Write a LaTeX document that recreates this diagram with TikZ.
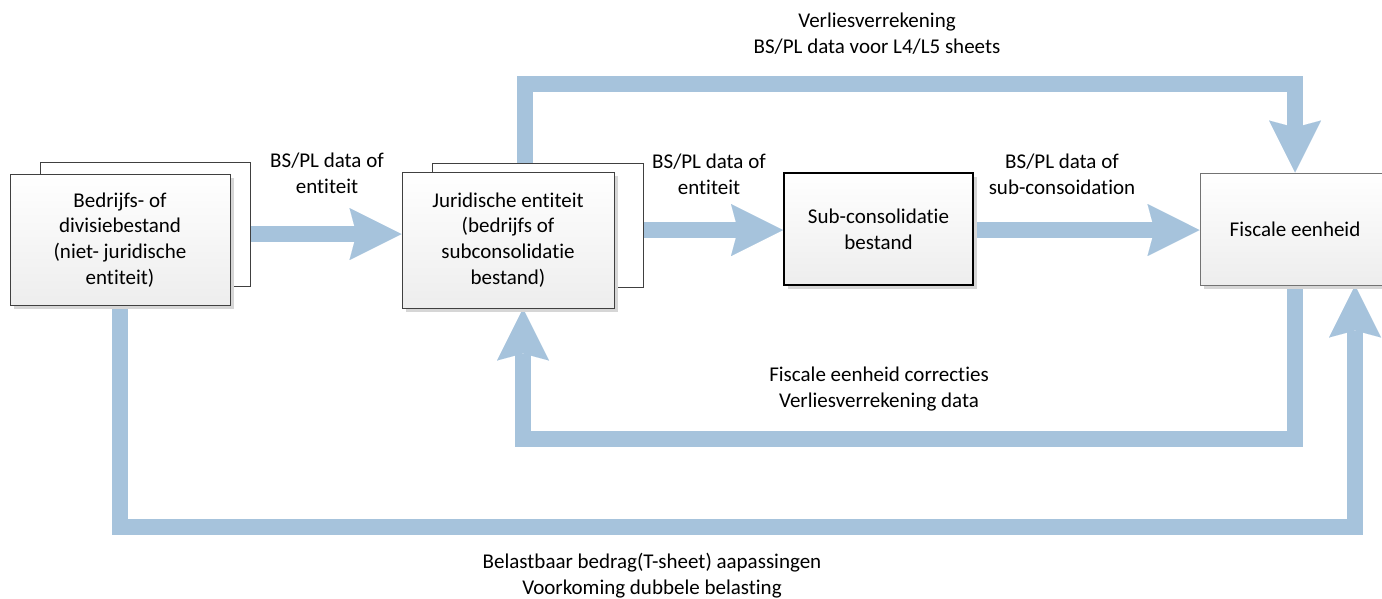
\documentclass[tikz,border=0pt]{standalone}
\usepackage{fontspec}
\setmainfont{Carlito}[Ligatures={NoCommon,NoRequired,NoContextual}]
\usetikzlibrary{arrows.meta,shadows,backgrounds}
\definecolor{flowblue}{RGB}{166,195,220}
\definecolor{boxline}{RGB}{64,64,64}
\begin{document}
\begin{tikzpicture}[x=1pt,y=-1pt,
  font=\fontsize{21}{25.8}\selectfont,
  flow/.style={draw=flowblue, line width=16pt,
    -{Stealth[length=52pt,width=52pt,inset=7pt,line width=0.01pt]}},
  backbox/.style={draw=boxline, line width=1pt, fill=white, inner sep=0pt},
  frontbox/.style={draw=boxline, line width=1pt, top color=white, bottom color=black!7,
    drop shadow={shadow xshift=3.5pt, shadow yshift=-3.5pt, fill=black!16, opacity=1},
    align=center, inner sep=0pt},
  subbox/.style={frontbox, draw=black, line width=2pt},
  fiscbox/.style={frontbox, draw=black!55},
  lbl/.style={align=center, inner sep=0pt}
]
\path[use as bounding box, clip] (0,0) rectangle (1382,598);

% back boxes
\node[backbox, minimum width=210pt, minimum height=124pt] (Aback) at (145,224) {};
\node[backbox, minimum width=211pt, minimum height=124pt] (Bback) at (537.5,225) {};

% front boxes
\node[frontbox, minimum width=220pt, minimum height=131pt] (A) at (120,240)
  {Bedrijfs- of\\divisiebestand\\(niet- juridische\\entiteit)};
\node[frontbox, minimum width=212pt, minimum height=136pt] (B) at (508,240)
  {Juridische entiteit\\(bedrijfs of\\subconsolidatie\\bestand)};
\node[subbox, minimum width=189pt, minimum height=112pt] (C) at (878.5,229)
  {Sub-consolidatie\\bestand};
\node[fiscbox, minimum width=190pt, minimum height=112pt] (D) at (1295,229)
  {Fiscale eenheid};

% connectors
\begin{scope}[on background layer]
\draw[flow] (Aback.east |- 0,234) -- (B.west |- 0,234);
\draw[flow] (Bback.east |- 0,230) -- (C.west |- 0,230);
\draw[flow] (C.east |- 0,230) -- (D.west |- 0,230);
\coordinate (topc) at (525,84);
\draw[flow] (Bback.north -| topc) -- (topc) -| (D.north);
\coordinate (midc) at (523,439);
\draw[flow] (D.south) |- (midc) -- (B.south -| midc);
\coordinate (lowc) at (1355,527);
\draw[flow] (A.south) |- (lowc) -- (D.south -| lowc);
\end{scope}

% labels
\node[lbl] (l1) at (327,173) {BS/PL data of\\entiteit};
\node[lbl] (l2) at (709,174) {BS/PL data of\\entiteit};
\node[lbl] (l3) at (1062,174) {BS/PL data of\\sub-consoidation};
\node[lbl] (l4) at (877,34) {Verliesverrekening\\BS/PL data voor L4/L5 sheets};
\node[lbl] (l5) at (879,389) {Fiscale eenheid correcties\\Verliesverrekening data};
\node[lbl] (l6) at (652,576) {Belastbaar bedrag(T-sheet) aapassingen\\Voorkoming dubbele belasting};
\end{tikzpicture}
\end{document}
